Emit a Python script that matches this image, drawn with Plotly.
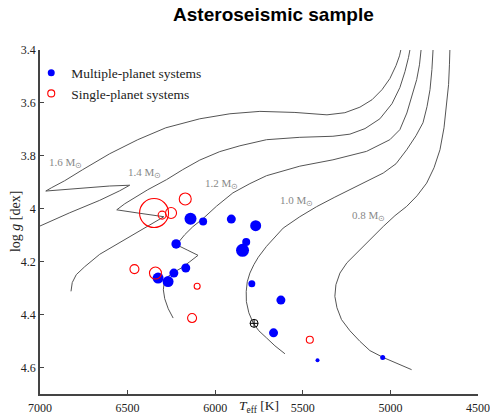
import plotly.graph_objects as go

# ---------------- data ----------------
# Multiple-planet systems (blue, filled)
multi_teff = [6141, 6069, 5908, 5769, 6223, 5823, 5844, 6168, 6236, 6326, 6269, 5791, 5625, 5667, 5416, 5044]
multi_logg = [4.038, 4.048, 4.039, 4.064, 4.133, 4.126, 4.157, 4.224, 4.243, 4.262, 4.275, 4.283, 4.345, 4.469, 4.572, 4.562]
multi_size = [12, 8, 9, 11, 9.5, 8, 13, 9, 9, 11, 11, 7, 9, 9, 4, 5]

# Single-planet systems (red, open)
single_teff = [6349, 6303, 6252, 6171, 6461, 6341, 6103, 6132, 5460]
single_logg = [4.016, 4.024, 4.016, 3.963, 4.228, 4.243, 4.293, 4.413, 4.495]
single_size = [29, 8, 11, 12, 9, 12, 6, 9, 7]

# Sun
sun_teff = [5778]
sun_logg = [4.433]

# Evolutionary tracks
trk16_teff = [7087, 7013, 6830, 6659, 6545, 6488, 6602, 6773, 6916, 6967, 6933, 6859, 6756, 6602, 6442, 6282,
              6088, 5916, 5745, 5545, 5362, 5260, 5174, 5105, 5048, 5003, 4968, 4948, 4934]
trk16_logg = [4.094, 4.069, 4.015, 3.968, 3.932, 3.911, 3.914, 3.924, 3.931, 3.933, 3.920, 3.894, 3.852, 3.792,
              3.739, 3.694, 3.660, 3.641, 3.632, 3.636, 3.645, 3.637, 3.616, 3.588, 3.550, 3.508, 3.459, 3.422, 3.380]

trk14_teff = [6823, 6816, 6793, 6745, 6659, 6545, 6431, 6345, 6293, 6431, 6562, 6516, 6385, 6278, 6185, 6088,
              5974, 5859, 5707, 5517, 5328, 5231, 5145, 5060, 4991, 4946, 4917, 4897, 4883]
trk14_logg = [4.312, 4.279, 4.249, 4.219, 4.172, 4.128, 4.085, 4.049, 4.030, 4.017, 4.004, 3.981, 3.928, 3.890,
              3.852, 3.816, 3.784, 3.762, 3.739, 3.730, 3.726, 3.718, 3.697, 3.660, 3.603, 3.542, 3.482, 3.429, 3.380]

trk12_teff = [6240, 6268, 6288, 6296, 6291, 6271, 6236, 6191, 6145, 6098, 6156, 6221, 6174, 6128, 6071, 5992,
              5899, 5802, 5707, 5614, 5517, 5328, 5136, 5003, 4946, 4906, 4877, 4850, 4834, 4826, 4820]
trk12_logg = [4.413, 4.378, 4.340, 4.306, 4.279, 4.257, 4.240, 4.223, 4.200, 4.176, 4.157, 4.136, 4.098, 4.068,
              4.038, 3.990, 3.940, 3.905, 3.875, 3.856, 3.839, 3.815, 3.783, 3.739, 3.701, 3.638, 3.576, 3.512,
              3.456, 3.396, 3.369]

trk10_teff = [5602, 5659, 5707, 5751, 5783, 5808, 5822, 5823, 5817, 5802, 5779, 5754, 5707, 5659, 5612, 5517,
              5421, 5317, 5231, 5134, 5041, 4968, 4907, 4854, 4814, 4791, 4774, 4763, 4755, 4754]
trk10_logg = [4.548, 4.518, 4.488, 4.461, 4.432, 4.393, 4.351, 4.313, 4.276, 4.243, 4.211, 4.183, 4.142, 4.106,
              4.073, 4.030, 3.992, 3.956, 3.928, 3.896, 3.865, 3.830, 3.777, 3.724, 3.675, 3.614, 3.550, 3.474,
              3.396, 3.369]

trk08_teff = [4879, 4957, 5041, 5117, 5174, 5231, 5279, 5305, 5317, 5311, 5288, 5248, 5193, 5117, 5041, 4974,
              4907, 4848, 4793, 4751, 4717, 4694, 4679, 4668, 4663, 4660, 4659]
trk08_logg = [4.608, 4.586, 4.562, 4.536, 4.501, 4.461, 4.419, 4.374, 4.331, 4.287, 4.243, 4.204, 4.167, 4.117,
              4.067, 4.026, 3.991, 3.951, 3.903, 3.845, 3.777, 3.694, 3.613, 3.531, 3.456, 3.396, 3.369]

track_labels = ["1.6 M<sub>⊙</sub>", "1.4 M<sub>⊙</sub>", "1.2 M<sub>⊙</sub>", "1.0 M<sub>⊙</sub>", "0.8 M<sub>⊙</sub>"]
label_teff = [6853, 6402, 5962, 5534, 5123]
label_logg = [3.826, 3.864, 3.905, 3.970, 4.026]

x_ticks = [7000, 6500, 6000, 5500, 5000, 4500]
y_ticks = [3.4, 3.6, 3.8, 4.0, 4.2, 4.4, 4.6]
y_ticktext = ["3.4", "3.6", "3.8", "4", "4.2", "4.4", "4.6"]

# ---------------- figure ----------------
SERIF = "Liberation Serif"
fig = go.Figure()

for tt, gg in [(trk16_teff, trk16_logg), (trk14_teff, trk14_logg), (trk12_teff, trk12_logg),
               (trk10_teff, trk10_logg), (trk08_teff, trk08_logg)]:
    fig.add_trace(go.Scatter(x=tt, y=gg, mode="lines", line=dict(color="#555555", width=1),
                             showlegend=False, hoverinfo="skip"))

fig.add_trace(go.Scatter(x=multi_teff, y=multi_logg, mode="markers", showlegend=False,
                         marker=dict(color="#0000ff", size=multi_size, opacity=1, line=dict(width=0))))
fig.add_trace(go.Scatter(x=single_teff, y=single_logg, mode="markers", showlegend=False,
                         marker=dict(symbol="circle-open", color="#ff0000", size=single_size, opacity=1,
                                     line=dict(width=1.1, color="#ff0000"))))
fig.add_trace(go.Scatter(x=sun_teff, y=sun_logg, mode="markers", showlegend=False,
                         marker=dict(symbol="circle-cross-open", color="black", size=8, opacity=1,
                                     line=dict(width=1, color="black"))))

# legend entries (no data points)
fig.add_trace(go.Scatter(x=[None], y=[None], mode="markers", name="Multiple-planet systems",
                         marker=dict(color="#0000ff", size=7, opacity=1)))
fig.add_trace(go.Scatter(x=[None], y=[None], mode="markers", name="Single-planet systems",
                         marker=dict(symbol="circle-open", color="#ff0000", size=7, opacity=1,
                                     line=dict(width=1.1, color="#ff0000"))))

annotations = []
for txt, tx, ty in zip(track_labels, label_teff, label_logg):
    annotations.append(dict(x=tx, y=ty, xref="x", yref="y", text=txt, showarrow=False,
                            font=dict(family=SERIF, size=11, color="#888888")))
annotations.append(dict(x=0.5, y=-0.036, xref="paper", yref="paper", text="<i>T</i><sub>eff</sub> [K]",
                        showarrow=False, xanchor="center", yanchor="middle",
                        font=dict(family=SERIF, size=13.5, color="#222222")))
annotations.append(dict(x=-0.057, y=0.5, xref="paper", yref="paper", text="log <i>g</i> [dex]",
                        showarrow=False, xanchor="center", yanchor="middle", textangle=-90,
                        font=dict(family=SERIF, size=14, color="#222222")))

fig.update_layout(
    width=490, height=417,
    margin=dict(l=40, r=12, t=50, b=23, autoexpand=False),
    paper_bgcolor="white", plot_bgcolor="white",
    title=dict(text="<b>Asteroseismic sample</b>", x=0.558, xref="container", xanchor="center",
               y=0.965, yref="container", yanchor="middle",
               font=dict(family="Liberation Sans", size=19, color="black")),
    xaxis=dict(range=[7000, 4500], showline=True, linecolor="#444444", linewidth=1.5, mirror=False,
               ticks="inside", ticklen=4, tickcolor="#444444", tickvals=x_ticks, ticklabelstandoff=2,
               automargin=False,
               showgrid=False, zeroline=False, tickfont=dict(family=SERIF, size=12, color="#222222")),
    yaxis=dict(range=[4.7, 3.4], showline=True, linecolor="#444444", linewidth=1.5, mirror=False,
               ticks="inside", ticklen=4, tickcolor="#444444", tickvals=y_ticks, ticktext=y_ticktext,
               automargin=False,
               showgrid=False, zeroline=False, tickfont=dict(family=SERIF, size=12, color="#222222")),
    legend=dict(x=-0.02, y=0.978, xanchor="left", yanchor="top", bgcolor="rgba(0,0,0,0)",
                font=dict(family=SERIF, size=13.5, color="#222222"),
                itemwidth=30, tracegroupgap=0),
    annotations=annotations,
    showlegend=True,
)
fig.write_html("out.html")
